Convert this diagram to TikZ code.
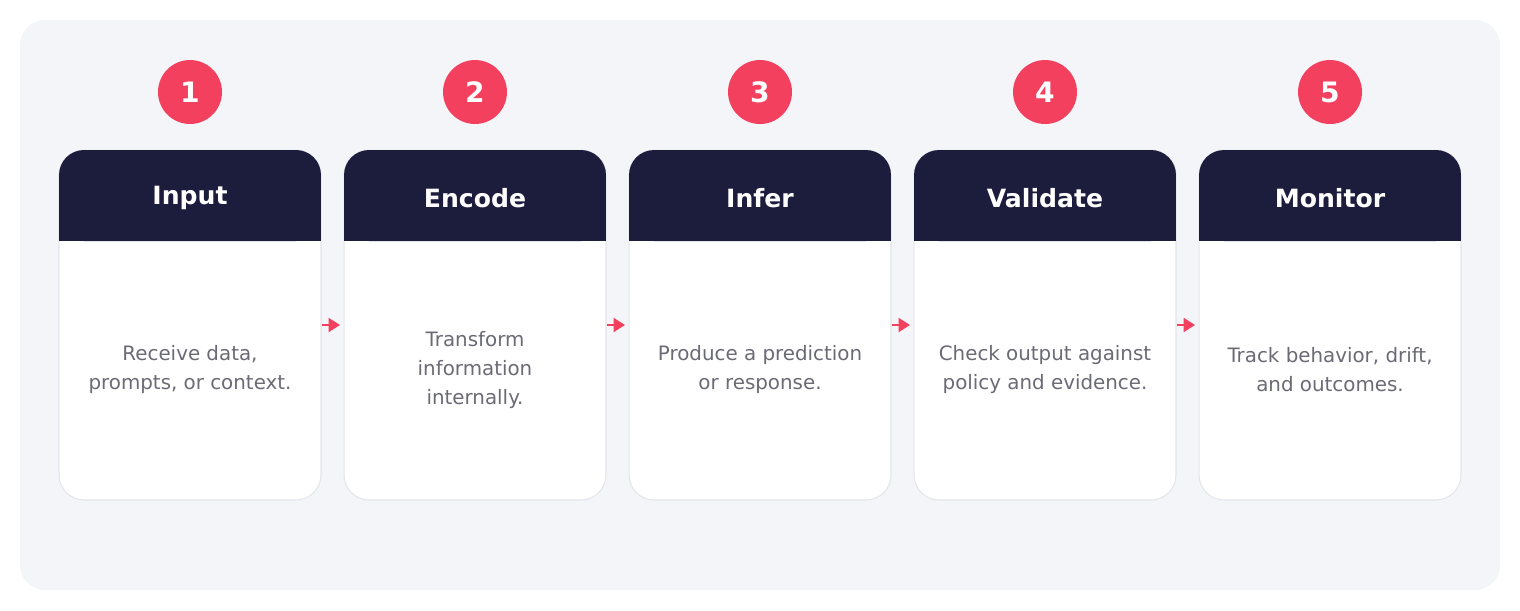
\documentclass[tikz,border=0pt]{standalone}
\usepackage{fontspec}
\setmainfont{DejaVu Sans}
\usepackage{tikz}
\usetikzlibrary{arrows.meta}

\definecolor{panelbg}{HTML}{F3F5F9}
\definecolor{navy}{HTML}{1C1D3D}
\definecolor{rose}{HTML}{F4405F}
\definecolor{txtgray}{HTML}{6B6B76}
\definecolor{cardline}{HTML}{E3E5EA}

\begin{document}
\begin{tikzpicture}[x=0.02cm, y=-0.02cm,
    card/.style={rectangle, rounded corners=0.5cm, fill=white, draw=cardline, line width=0.6pt,
      minimum width=5.24cm, minimum height=7cm, inner sep=0pt},
    head/.style={rectangle, rounded corners=0.5cm, fill=navy,
      minimum width=5.24cm, minimum height=1.82cm, inner sep=0pt},
    badge/.style={circle, fill=rose, minimum size=1.28cm, inner sep=0pt,
      text=white, font=\fontsize{16}{18}\selectfont\bfseries},
    desc/.style={align=center, text=txtgray, font=\fontsize{11.3}{16.5}\selectfont},
    flow/.style={rose, line width=1pt, -{Triangle[length=6.5pt, width=8pt]}, shorten >=2pt}
  ]
    \useasboundingbox (0,0) rectangle (1520,610);

    % background panel
    \fill[panelbg, rounded corners=0.5cm] (20,20) rectangle (1500,590);

    % cards
    \foreach \i/\title/\body in {
      1/Input/{Receive data,\\prompts, or context.},
      2/Encode/{Transform\\information\\internally.},
      3/Infer/{Produce a prediction\\or response.},
      4/Validate/{Check output against\\policy and evidence.},
      5/Monitor/{Track behavior, drift,\\and outcomes.}}
    {
      \pgfmathsetmacro{\cx}{190+285*(\i-1)}
      \node[card] (card\i) at (\cx,325) {};
      \node[head] (head\i) at (\cx,195.5) {};
      \fill[navy] (\cx-131,200) rectangle (\cx+131,241);
      \node[text=white, font=\fontsize{14.3}{16}\selectfont\bfseries] (title\i) at (\cx,198) {\title};
      \node[desc] (txt\i) at (\cx,370) {\body};
      \node[badge] (num\i) at (\cx,92) {\i};
    }

    % connectors
    \foreach \i [evaluate=\i as \j using int(\i+1)] in {1,...,4}
      \draw[flow] (card\i.east) -- (card\j.west);
\end{tikzpicture}
\end{document}
